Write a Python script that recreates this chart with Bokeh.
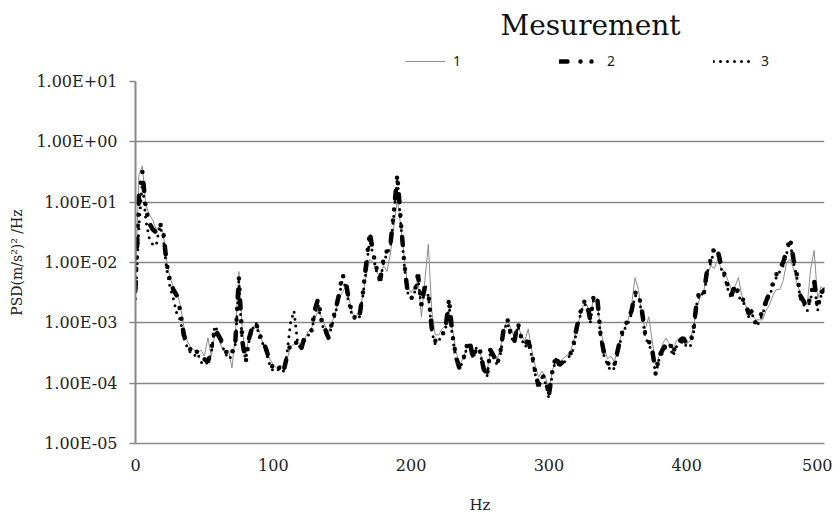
import numpy as np
from bokeh.plotting import figure
from bokeh.layouts import column
from bokeh.models import Legend, LegendItem, FixedTicker, CustomJSTickFormatter, Label
from bokeh.embed import file_html
from bokeh.resources import INLINE

# PSD values, written as log10 exponents, sampled every 2.5 Hz from 0 to 500 Hz
S1_LOG = [
    -2.3, -0.55, -0.4, -1.05, -1.2, -1.3, -1.45, -1.4, -1.5, -1.95,
    -2.25, -2.4, -2.5, -2.7, -3.05, -3.3, -3.4, -3.45, -3.5, -3.45,
    -3.55, -3.25, -3.55, -3.2, -3.25, -3.4, -3.5, -3.45, -3.75, -3.2,
    -2.15, -3.1, -3.55, -3.2, -3.1, -3.0, -3.15, -3.35, -3.45, -3.6,
    -3.7, -3.75, -3.7, -3.75, -3.6, -3.4, -3.35, -3.3, -3.4, -3.3,
    -3.15, -3.1, -2.95, -2.8, -2.9, -3.05, -3.15, -3.0, -2.85, -2.6,
    -2.5, -2.4, -2.6, -2.85, -2.9, -2.8, -2.55, -2.2, -1.95, -2.0,
    -2.15, -2.25, -2.05, -2.15, -1.85, -1.4, -0.95, -1.4, -1.9, -2.4,
    -2.5, -2.4, -2.3, -2.9, -2.3, -1.7, -2.8, -3.2, -3.2, -3.1,
    -3.05, -2.8, -3.1, -3.45, -3.7, -3.6, -3.45, -3.35, -3.5, -3.45,
    -3.5, -3.65, -3.8, -3.5, -3.5, -3.6, -3.4, -3.1, -2.95, -3.1,
    -3.25, -3.05, -3.2, -3.3, -3.1, -3.45, -3.7, -3.9, -3.8, -3.9,
    -4.1, -3.8, -3.6, -3.65, -3.6, -3.55, -3.5, -3.35, -3.1, -2.9,
    -2.7, -2.7, -2.85, -2.6, -2.65, -3.1, -3.4, -3.6, -3.55, -3.65,
    -3.4, -3.2, -3.1, -2.95, -2.7, -2.25, -2.45, -2.9, -3.1, -2.9,
    -3.3, -3.7, -3.55, -3.35, -3.25, -3.35, -3.45, -3.3, -3.25, -3.3,
    -3.35, -3.3, -3.05, -2.75, -2.55, -2.45, -2.2, -2.05, -2.1, -1.95,
    -2.1, -2.15, -2.3, -2.45, -2.4, -2.25, -2.55, -2.7, -2.8, -2.85,
    -2.95, -2.95, -2.95, -2.8, -2.7, -2.55, -2.45, -2.45, -2.3, -2.0,
    -1.95, -2.1, -2.35, -2.5, -2.7, -2.7, -2.1, -1.8, -2.6, -2.4,
    -2.45,
]

S2_LOG = [
    -2.45, -0.9, -0.5, -1.1, -1.35, -1.45, -1.5, -1.35, -1.45, -2.0,
    -2.3, -2.45, -2.55, -2.8, -3.2, -3.35, -3.45, -3.4, -3.5, -3.55,
    -3.6, -3.65, -3.45, -3.1, -3.2, -3.3, -3.45, -3.55, -3.5, -3.3,
    -2.25, -3.3, -3.65, -3.25, -3.05, -3.0, -3.2, -3.3, -3.45, -3.65,
    -3.75, -3.8, -3.72, -3.8, -3.55, -3.35, -3.3, -3.35, -3.45, -3.25,
    -3.2, -3.15, -2.8, -2.6, -2.95, -3.1, -3.25, -3.0, -2.8, -2.55,
    -2.2, -2.3, -2.65, -2.85, -2.95, -2.9, -2.5, -2.0, -1.5, -1.85,
    -2.1, -2.3, -1.95, -1.8, -1.7, -1.15, -0.55, -1.3, -2.0, -2.5,
    -2.6, -2.5, -2.2, -2.7, -2.4, -2.5, -3.1, -3.3, -3.25, -3.2,
    -3.1, -2.6, -3.2, -3.55, -3.75, -3.65, -3.4, -3.3, -3.6, -3.4,
    -3.45, -3.75, -3.9, -3.45, -3.55, -3.7, -3.45, -3.05, -2.95, -3.2,
    -3.3, -3.0, -3.25, -3.35, -3.3, -3.5, -3.8, -4.05, -3.85, -3.95,
    -4.2, -3.8, -3.55, -3.7, -3.65, -3.6, -3.55, -3.4, -3.1, -2.85,
    -2.65, -2.65, -2.95, -2.55, -2.55, -3.2, -3.5, -3.65, -3.75, -3.7,
    -3.45, -3.2, -3.05, -2.95, -2.8, -2.5, -2.5, -2.8, -3.2, -3.3,
    -3.45, -3.85, -3.55, -3.45, -3.35, -3.3, -3.5, -3.35, -3.3, -3.25,
    -3.35, -3.35, -3.1, -2.6, -2.45, -2.5, -2.1, -1.95, -1.75, -1.8,
    -2.05, -2.2, -2.4, -2.55, -2.35, -2.5, -2.6, -2.65, -2.85, -2.8,
    -3.0, -2.95, -2.8, -2.65, -2.5, -2.35, -2.2, -2.1, -2.0, -1.8,
    -1.6, -1.95, -2.2, -2.55, -2.65, -2.75, -2.55, -2.3, -2.75, -2.5,
    -2.45,
]

S3_LOG = [
    -2.6, -1.4, -0.65, -1.3, -1.6, -1.7, -1.72, -1.4, -1.55, -2.1,
    -2.4, -2.6, -2.85, -2.95, -3.25, -3.4, -3.5, -3.55, -3.5, -3.65,
    -3.7, -3.65, -3.5, -3.05, -3.15, -3.35, -3.5, -3.6, -3.55, -3.35,
    -2.3, -3.4, -3.6, -3.3, -3.1, -3.0, -3.25, -3.35, -3.5, -3.7,
    -3.8, -3.8, -3.75, -3.8, -3.5, -3.0, -2.8, -3.3, -3.45, -3.3,
    -3.2, -3.2, -2.85, -2.7, -3.0, -3.15, -3.25, -3.05, -2.85, -2.6,
    -2.3, -2.4, -2.7, -2.9, -2.95, -2.9, -2.55, -2.1, -1.6, -1.9,
    -2.15, -2.3, -2.0, -1.85, -1.75, -1.2, -0.6, -1.35, -2.05, -2.5,
    -2.6, -2.5, -2.25, -2.75, -2.45, -2.55, -3.15, -3.35, -3.3, -3.2,
    -3.1, -2.7, -3.25, -3.6, -3.75, -3.65, -3.45, -3.35, -3.6, -3.4,
    -3.5, -3.75, -3.9, -3.5, -3.55, -3.7, -3.5, -3.1, -3.0, -3.25,
    -3.3, -3.05, -3.25, -3.4, -3.35, -3.55, -3.85, -4.05, -3.9, -4.0,
    -4.25, -3.85, -3.6, -3.7, -3.7, -3.6, -3.55, -3.45, -3.15, -2.9,
    -2.7, -2.7, -3.0, -2.6, -2.6, -3.25, -3.55, -3.7, -3.8, -3.75,
    -3.5, -3.25, -3.1, -3.0, -2.85, -2.55, -2.55, -2.85, -3.25, -3.35,
    -3.5, -3.85, -3.6, -3.5, -3.4, -3.35, -3.55, -3.4, -3.35, -3.3,
    -3.4, -3.4, -3.15, -2.65, -2.5, -2.55, -2.15, -2.0, -1.8, -1.85,
    -2.1, -2.25, -2.45, -2.6, -2.4, -2.55, -2.65, -2.7, -2.9, -2.85,
    -3.05, -3.0, -2.85, -2.7, -2.55, -2.4, -2.25, -2.15, -2.05, -1.85,
    -1.65, -2.0, -2.25, -2.6, -2.7, -2.8, -2.6, -2.35, -2.8, -2.55,
    -2.5,
]

TITLE = "Mesurement"
SERIES_NAMES = ["1", "2", "3"]
X_TICKS = [0, 100, 200, 300, 400, 500]
Y_EXPS = [-5, -4, -3, -2, -1, 0, 1]
Y_TICK_LABELS = ["1.00E-05", "1.00E-04", "1.00E-03", "1.00E-02",
                 "1.00E-01", "1.00E+00", "1.00E+01"]

freq1 = np.linspace(0, 500, len(S1_LOG))
freq2 = np.linspace(0, 500, len(S2_LOG))
freq3 = np.linspace(0, 500, len(S3_LOG))
psd1 = 10.0 ** np.array(S1_LOG)
psd2 = 10.0 ** np.array(S2_LOG)
psd3 = 10.0 ** np.array(S3_LOG)

GRID = "#878787"
SERIF = "DejaVu Serif"
STYLE1 = dict(line_color="#8c8c8c", line_width=1)
STYLE2 = dict(line_color="black", line_width=4.5, line_dash="8 13 0 11 0 11", line_cap="round")
STYLE3 = dict(line_color="black", line_width=3, line_dash="0 7", line_cap="round")

# ---------------- header: title + legend ----------------
HEADER_H = 71
# the header's ranges lie outside the data, so its copies of the lines only feed the legend
head = figure(width=832, height=HEADER_H, x_range=(1000, 1001), y_range=(1000, 1001),
              output_backend="svg", toolbar_location=None, title=None,
              min_border_left=135, min_border_right=8, min_border_top=0,
              min_border_bottom=0)
head.axis.visible = False
head.grid.visible = False
head.outline_line_color = None
head.background_fill_color = "white"
head.border_fill_color = "white"

h1 = head.line(freq1, psd1, **STYLE1)
h2 = head.line(freq2, psd2, **STYLE2)
h3 = head.line(freq3, psd3, **STYLE3)

legend = Legend(
    items=[LegendItem(label=SERIES_NAMES[0], renderers=[h1]),
           LegendItem(label=SERIES_NAMES[1], renderers=[h2]),
           LegendItem(label=SERIES_NAMES[2], renderers=[h3])],
    orientation="horizontal", location=(270, 1),
    glyph_width=40, glyph_height=16, label_height=16, label_width=106,
    label_standoff=8, spacing=0, padding=0, margin=0,
    border_line_alpha=0, background_fill_alpha=0,
    label_text_font="Noto Sans", label_text_font_size="14px",
    label_text_color="#222222")
head.add_layout(legend)

head.add_layout(Label(x=365, y=HEADER_H - 25, x_units="screen", y_units="screen",
                      text=TITLE, text_font=SERIF, text_font_size="28px",
                      text_color="#111111", text_baseline="middle", text_align="left"))

# ---------------- main plot ----------------
p = figure(width=832, height=445, x_range=(0, 500), y_range=(1e-5, 10),
           y_axis_type="log", output_backend="svg", toolbar_location=None,
           title=None,
           min_border_left=135, min_border_right=8, min_border_top=10,
           min_border_bottom=72)
p.outline_line_color = None
p.background_fill_color = "white"
p.border_fill_color = "white"

p.xgrid.visible = False
p.ygrid.grid_line_color = GRID
p.ygrid.grid_line_width = 1.5
p.ygrid.ticker = FixedTicker(ticks=[10.0 ** e for e in Y_EXPS])

p.yaxis.ticker = FixedTicker(ticks=[10.0 ** e for e in Y_EXPS])
p.yaxis.formatter = CustomJSTickFormatter(
    args=dict(labels=Y_TICK_LABELS, exps=Y_EXPS),
    code="const e = Math.round(Math.log10(tick)); const i = exps.indexOf(e); return i >= 0 ? labels[i] : '';")
p.yaxis.axis_line_color = GRID
p.yaxis.axis_line_width = 2
p.yaxis.major_tick_line_color = GRID
p.yaxis.major_tick_line_width = 1.5
p.yaxis.major_tick_out = 6
p.yaxis.major_tick_in = 0
p.yaxis.minor_tick_line_color = None
p.yaxis.major_label_text_font = SERIF
p.yaxis.major_label_text_font_size = "16px"
p.yaxis.major_label_text_color = "#222222"
p.yaxis.major_label_standoff = 12
p.yaxis.axis_label = "PSD(m/s\u00b2)\u00b2 /Hz"
p.yaxis.axis_label_text_font = SERIF
p.yaxis.axis_label_text_font_size = "14px"
p.yaxis.axis_label_text_font_style = "normal"
p.yaxis.axis_label_text_color = "#222222"
p.yaxis.axis_label_standoff = 8

p.xaxis.ticker = FixedTicker(ticks=X_TICKS)
p.xaxis.axis_line_color = GRID
p.xaxis.axis_line_width = 1.5
p.xaxis.major_tick_out = 0
p.xaxis.major_tick_in = 0
p.xaxis.minor_tick_line_color = None
p.xaxis.major_label_text_font = SERIF
p.xaxis.major_label_text_font_size = "16px"
p.xaxis.major_label_text_color = "#222222"
p.xaxis.major_label_standoff = 15
p.xaxis.axis_label = "Hz"
p.xaxis.axis_label_text_font = SERIF
p.xaxis.axis_label_text_font_size = "15px"
p.xaxis.axis_label_text_font_style = "normal"
p.xaxis.axis_label_text_color = "#222222"
p.xaxis.axis_label_standoff = 22

p.line(freq1, psd1, **STYLE1)
p.line(freq2, psd2, **STYLE2)
p.line(freq3, psd3, **STYLE3)

layout = column(head, p, spacing=0)
open("out.html", "w").write(file_html(layout, INLINE))
